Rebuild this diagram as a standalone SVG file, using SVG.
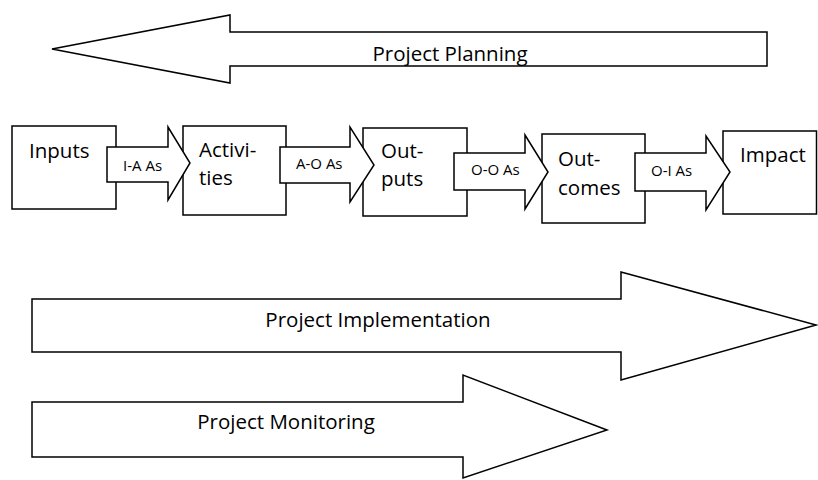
<svg xmlns="http://www.w3.org/2000/svg" width="818" height="480" viewBox="0 0 818 480">
<style>
.shape{fill:#fff;stroke:#000;stroke-width:1.5;stroke-linejoin:miter}
.big{font-family:"Open Sans","Noto Sans",sans-serif;font-size:20.5px;fill:#000}
.small{font-family:"Open Sans","Noto Sans",sans-serif;font-size:15px;fill:#000}
</style>
<rect width="818" height="480" fill="#fff"/>
<g id="planning">
<polygon class="shape" points="767,32 230,32 230,15 52,49 230,83 230,66 767,66"/>
<text class="big" x="450" y="61" text-anchor="middle">Project Planning</text>
</g>
<g id="inputs">
<rect class="shape" x="12" y="126" width="104" height="83"/>
<text class="big" x="29" y="158">Inputs</text>
</g>
<g id="activities">
<rect class="shape" x="183" y="126" width="103" height="89"/>
<text class="big" x="199" y="157">Activi-</text>
<text class="big" x="199" y="185">ties</text>
</g>
<g id="outputs">
<rect class="shape" x="363" y="128" width="104" height="88"/>
<text class="big" x="381" y="158">Out-</text>
<text class="big" x="381" y="186">puts</text>
</g>
<g id="outcomes">
<rect class="shape" x="542" y="134" width="103" height="89"/>
<text class="big" x="558" y="166">Out-</text>
<text class="big" x="558" y="195">comes</text>
</g>
<g id="impact">
<rect class="shape" x="723" y="131" width="93.5" height="83"/>
<text class="big" x="740" y="162">Impact</text>
</g>
<g id="connectors">
<g id="ia">
<polygon class="shape" points="107,147 168,147 168,127 190,163 168,200 168,182 107,182"/>
<text class="small" x="123" y="171">I-A As</text>
</g>
<g id="ao">
<polygon class="shape" points="280,147 350,147 350,127 374,165 350,202 350,183 280,183"/>
<text class="small" x="296" y="169">A-O As</text>
</g>
<g id="oo">
<polygon class="shape" points="454,153 525,153 525,135 548,172 525,209 525,190 454,190"/>
<text class="small" x="471" y="175">O-O As</text>
</g>
<g id="oi">
<polygon class="shape" points="635,153 706,153 706,136 730,172 706,210 706,191 635,191"/>
<text class="small" x="651" y="176">O-I As</text>
</g>
</g>
<g id="implementation">
<polygon class="shape" points="32,299 621,299 621,272 816,325 621,380 621,352 32,352"/>
<text class="big" x="378" y="327" text-anchor="middle">Project Implementation</text>
</g>
<g id="monitoring">
<polygon class="shape" points="32,402 463,402 463,375 607,430 463,478 463,457 32,457"/>
<text class="big" x="286" y="429" text-anchor="middle">Project Monitoring</text>
</g>
</svg>
